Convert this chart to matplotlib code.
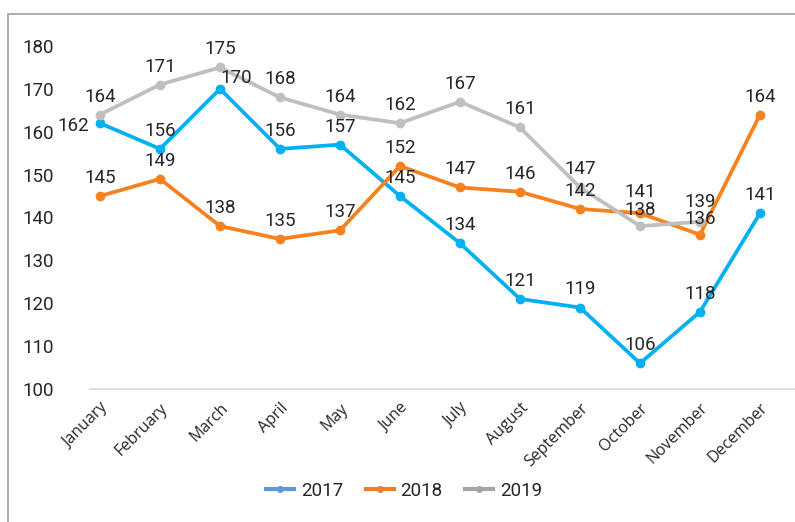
#!/usr/bin/env python3
"""Monthly values 2017-2019, line chart with data labels."""

import matplotlib
matplotlib.use("Agg")
import matplotlib.pyplot as plt
from matplotlib.lines import Line2D
from matplotlib.patches import Rectangle
import numpy as np

months = ["January", "February", "March", "April", "May", "June",
          "July", "August", "September", "October", "November", "December"]
years = ["2017", "2018", "2019"]
values_2017 = [162, 156, 170, 156, 157, 145, 134, 121, 119, 106, 118, 141]
values_2018 = [145, 149, 138, 135, 137, 152, 147, 146, 142, 141, 136, 164]
values_2019 = [164, 171, 175, 168, 164, 162, 167, 161, 147, 138, 139, None]
y_ticks = [100, 110, 120, 130, 140, 150, 160, 170, 180]

num_font = ["Roboto", "DejaVu Sans"]
cat_font = ["Open Sans", "DejaVu Sans"]
text_color = "#262626"
fs = 13.5

line_colors = ["#00B0F0", "#F5821F", "#BFBFBF"]
legend_colors = ["#5B9BD5", "#ED7D31", "#A5A5A5"]

W, H = 795, 522
fig = plt.figure(figsize=(W / 100, H / 100), dpi=100)
ax = fig.add_axes([90 / W, 1 - 389 / H, (W - 90) / W, (389 - 46) / H])

x = np.arange(len(months))
series = [values_2017, values_2018, values_2019]

for vals, col in zip(series, line_colors):
    xs = [i for i, v in enumerate(vals) if v is not None]
    ys = [v for v in vals if v is not None]
    ax.plot(xs, ys, color=col, lw=2.7, marker="o", markersize=6,
            solid_capstyle="round", solid_joinstyle="round", clip_on=False)

# data labels, above the point unless noted
offsets = {(0, 0): (-8, -2, "right"), (0, 2): (12, 8, "center"),
           (1, 9): (0, 15, "center"), (2, 9): (0, 11.5, "center"),
           (2, 10): (0, 14, "center"), (1, 10): (0, 11, "center")}
for s, vals in enumerate(series):
    for i, v in enumerate(vals):
        if v is None:
            continue
        dx, dy, ha = offsets.get((s, i), (0, 13, "center"))
        ax.annotate(f"{v}", (i, v), xytext=(dx, dy), textcoords="offset points",
                    ha=ha, va="center", fontsize=fs, family=num_font,
                    color=text_color, annotation_clip=False)

ax.set_xlim(-10 / 60, 11 + 35 / 60)
ax.set_ylim(100, 180)
ax.set_yticks(y_ticks)
ax.set_yticklabels([str(t) for t in y_ticks], family=num_font, fontsize=fs,
                   color=text_color)
ax.set_xticks(x)
ax.set_xticklabels(months, rotation=45, ha="right", rotation_mode="anchor",
                   family=cat_font, fontsize=11.5, color=text_color)
ax.tick_params(axis="y", length=0, pad=26)
ax.tick_params(axis="x", length=0, pad=8)
for side in ["left", "right", "top"]:
    ax.spines[side].set_visible(False)
ax.spines["bottom"].set_color("#D9D9D9")
ax.spines["bottom"].set_linewidth(1.2)

handles = [Line2D([], [], color=c, lw=3, marker="o", markersize=4)
           for c in legend_colors]
fig.legend(handles, years, loc="center", bbox_to_anchor=(404 / W, 1 - 491 / H),
           ncol=3, frameon=False, handlelength=1.5, handletextpad=0.35,
           columnspacing=1.2, prop={"family": num_font, "size": fs},
           labelcolor=text_color)

# outer chart border (cut off at right and bottom)
fig.patches.append(Rectangle((8 / W, -0.1), 1.2, 1.1 - 14 / H,
                             transform=fig.transFigure, fill=False,
                             edgecolor="#A6A6A6", lw=1.3))

plt.savefig("out.png", dpi=100)
